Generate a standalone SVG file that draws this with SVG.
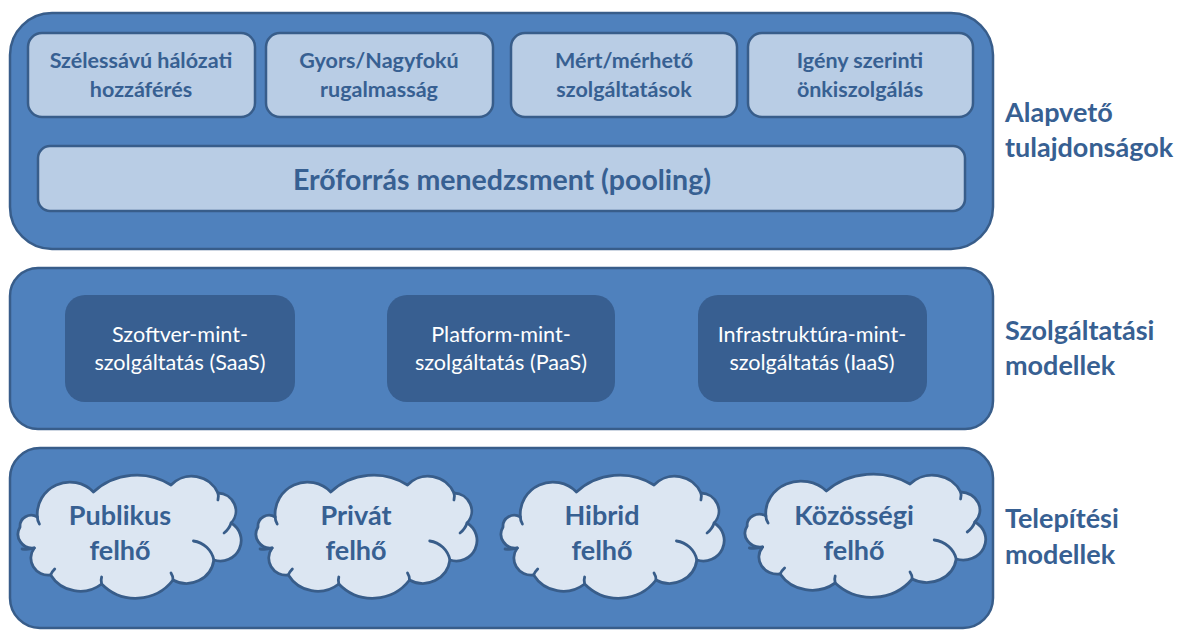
<svg xmlns="http://www.w3.org/2000/svg" width="1185" height="640" viewBox="0 0 1185 640">
<style>
.panel{fill:#4F81BD;stroke:#385D8A;stroke-width:2.5}
.lbox{fill:#B9CDE5;stroke:#385D8A;stroke-width:2.5}
.dbox{fill:#385F91}
.cloud{fill:#DCE6F2;stroke:#385D8A;stroke-width:2.8;stroke-linejoin:round;vector-effect:non-scaling-stroke}
.inner{fill:none;stroke:#385D8A;stroke-width:2.8;stroke-linecap:round;vector-effect:non-scaling-stroke}
text{font-family:Lato,"Liberation Sans",sans-serif}
.t1{font-size:21.5px;font-weight:bold;fill:#376092;text-anchor:middle}
.t2{font-size:28.5px;font-weight:bold;fill:#376092;text-anchor:middle}
.t3{font-size:21.6px;fill:#FFFFFF;text-anchor:middle}
.t4{font-size:27px;font-weight:bold;fill:#376092;text-anchor:middle}
.lab{font-size:27px;font-weight:bold;fill:#376092}
</style>
<defs>
<g id="cloudShape">
<path class="cloud" d="M2,50 A11,11 0 0 1 19,40 A32,32 0 0 1 74,15 A62,62 0 0 1 150,8 A28,28 0 0 1 196,16 A18,18 0 0 1 209,46 A20.5,20.5 0 0 1 192,83 A27,27 0 0 1 152,103 A46,46 0 0 1 82,107 A34,34 0 0 1 32,98 A17,17 0 0 1 16,71 A14,14 0 0 1 2,50 Z"/>
<path class="inner" d="M172,64 A24,24 0 0 1 192,83"/>
<path class="inner" d="M209,46 Q207,52 202,56"/>
<path class="inner" d="M4,72 Q10,73 16,71"/>
<path class="inner" d="M19,40 Q19,44 21,47"/>
<path class="inner" d="M32,98 Q33,95 36,92"/>
<path class="inner" d="M82,107 Q81,103 82,100"/>
<path class="inner" d="M152,103 Q152,99 150,96"/>
<path class="inner" d="M196,16 Q197,19 196,23"/>
</g>
</defs>

<g id="panel-alapveto">
<rect class="panel" x="10" y="13" width="983" height="236" rx="42"/>
</g>
<g id="panel-szolgaltatasi">
<rect class="panel" x="10" y="268" width="983" height="161" rx="28"/>
</g>
<g id="panel-telepitesi">
<rect class="panel" x="10" y="448" width="983" height="180" rx="30"/>
</g>

<g id="node-szelessavu">
<rect class="lbox" x="28" y="33" width="227" height="84" rx="14"/>
<text class="t1" x="141" y="68">Szélessávú hálózati</text>
<text class="t1" x="141" y="97">hozzáférés</text>
</g>
<g id="node-gyors">
<rect class="lbox" x="266" y="33" width="227" height="84" rx="14"/>
<text class="t1" x="379" y="68">Gyors/Nagyfokú</text>
<text class="t1" x="379" y="97">rugalmasság</text>
</g>
<g id="node-mert">
<rect class="lbox" x="511" y="33" width="226" height="84" rx="14"/>
<text class="t1" x="624" y="68">Mért/mérhető</text>
<text class="t1" x="624" y="97">szolgáltatások</text>
</g>
<g id="node-igeny">
<rect class="lbox" x="748" y="33" width="225" height="84" rx="14"/>
<text class="t1" x="860" y="68">Igény szerinti</text>
<text class="t1" x="860" y="97">önkiszolgálás</text>
</g>
<g id="node-eroforras">
<rect class="lbox" x="38" y="146" width="927" height="65" rx="12"/>
<text class="t2" x="502" y="190">Erőforrás menedzsment (pooling)</text>
</g>

<g id="node-saas">
<rect class="dbox" x="65" y="295" width="230" height="107" rx="20"/>
<text class="t3" x="180" y="342">Szoftver-mint-</text>
<text class="t3" x="180" y="370">szolgáltatás (SaaS)</text>
</g>
<g id="node-paas">
<rect class="dbox" x="387" y="295" width="228" height="107" rx="20"/>
<text class="t3" x="501" y="342">Platform-mint-</text>
<text class="t3" x="501" y="370">szolgáltatás (PaaS)</text>
</g>
<g id="node-iaas">
<rect class="dbox" x="698" y="295" width="229" height="107" rx="20"/>
<text class="t3" x="812" y="342">Infrastruktúra-mint-</text>
<text class="t3" x="812" y="370">szolgáltatás (IaaS)</text>
</g>

<g id="node-publikus">
<use href="#cloudShape" transform="translate(18,477) scale(1.02,1)"/>
<text class="t4" x="120" y="525">Publikus</text>
<text class="t4" x="120" y="560">felhő</text>
</g>
<g id="node-privat">
<use href="#cloudShape" transform="translate(256,477) scale(1.01,1)"/>
<text class="t4" x="356" y="525">Privát</text>
<text class="t4" x="356" y="560">felhő</text>
</g>
<g id="node-hibrid">
<use href="#cloudShape" transform="translate(501,477) scale(1.02,1)"/>
<text class="t4" x="602" y="525">Hibrid</text>
<text class="t4" x="602" y="560">felhő</text>
</g>
<g id="node-kozossegi">
<use href="#cloudShape" transform="translate(745,476) scale(1.1,1)"/>
<text class="t4" x="854" y="525">Közösségi</text>
<text class="t4" x="854" y="560">felhő</text>
</g>

<g id="labels">
<text class="lab" x="1005" y="122">Alapvető</text>
<text class="lab" x="1005" y="157">tulajdonságok</text>
<text class="lab" x="1005" y="340">Szolgáltatási</text>
<text class="lab" x="1005" y="375">modellek</text>
<text class="lab" x="1005" y="528">Telepítési</text>
<text class="lab" x="1005" y="564">modellek</text>
</g>

<g id="connectors"></g>
</svg>
